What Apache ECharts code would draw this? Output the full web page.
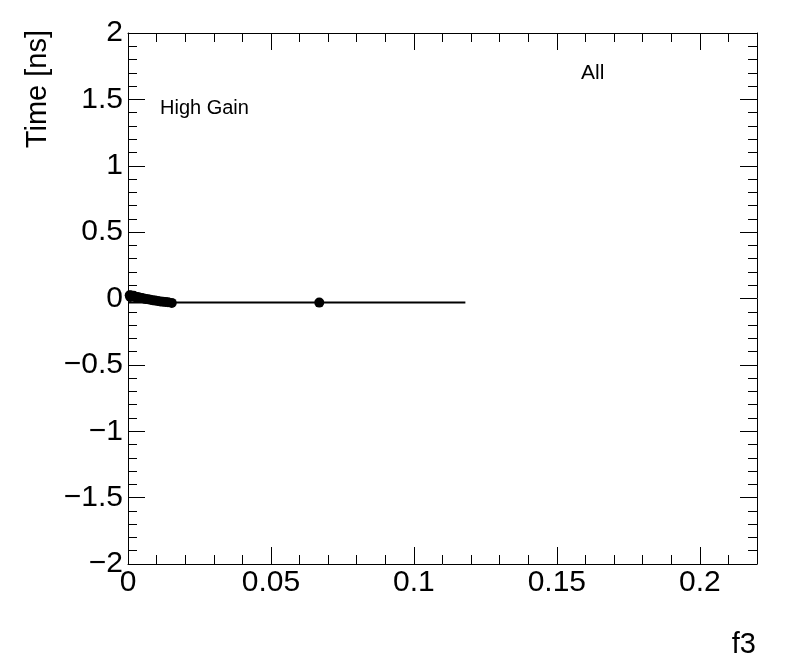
<!DOCTYPE html>
<html>
<head>
<meta charset="utf-8">
<script src="https://cdn.jsdelivr.net/npm/echarts@6/dist/echarts.min.js"></script>
<style>
html,body{margin:0;padding:0;background:#fff;}
#chart{width:796px;height:672px;}
</style>
</head>
<body>
<div id="chart"></div>
<script>
// Data
var pointX = [0.0006,0.0008,0.0010,0.0015,0.0020,0.0025,0.0030,0.0036,0.0042,0.0048,0.0055,0.0062,0.0070,0.0078,0.0086,0.0095,0.0104,0.0113,0.0122,0.0131,0.0140,0.0153,0.0669];
var pointY = [0.025,0.012,0.022,0.018,0.020,0.009,0.012,0.010,0.006,0.004,0.000,-0.003,-0.006,-0.010,-0.013,-0.016,-0.019,-0.022,-0.024,-0.026,-0.028,-0.033,-0.031];
var fitX = [0.0, 0.118];
var fitY = [-0.030, -0.030];
var xTicks = [0, 0.05, 0.1, 0.15, 0.2];
var yTicks = [-2, -1.5, -1, -0.5, 0, 0.5, 1, 1.5, 2];

var chart = echarts.init(document.getElementById('chart'));
var font = 'Liberation Sans, Arial, Helvetica, sans-serif';

function fmtNum(v){
  var r = Math.round(v*1000)/1000;
  var s = String(Math.abs(r));
  return (r < 0 ? '\u2212' : '') + s;
}

var axisLineStyle = {color:'#000', width:1};
var baseX = {
  type:'value', min:0, max:0.22, interval:0.05,
  axisLine:{show:true, onZero:false, lineStyle:axisLineStyle},
  axisTick:{show:true, inside:true, length:17, lineStyle:axisLineStyle},
  minorTick:{show:true, splitNumber:5, length:9, lineStyle:axisLineStyle},
  splitLine:{show:false}
};
var baseY = {
  type:'value', min:-2, max:2, interval:0.5,
  axisLine:{show:true, onZero:false, lineStyle:axisLineStyle},
  axisTick:{show:true, inside:true, length:17, lineStyle:axisLineStyle},
  minorTick:{show:true, splitNumber:5, length:9, lineStyle:axisLineStyle},
  splitLine:{show:false}
};

var option = {
  backgroundColor:'#fff',
  animation:false,
  grid:{left:128, top:33, right:39, bottom:108, containLabel:false},
  xAxis:[
    Object.assign({}, baseX, {position:'bottom',
      axisLabel:{show:true, margin:4, fontSize:30, color:'#000', fontFamily:font,
        showMaxLabel:false,
        formatter:function(v){ return xTicks.some(function(t){return Math.abs(t-v)<1e-9;}) ? fmtNum(v) : ''; }}}),
    Object.assign({}, baseX, {position:'top', axisLabel:{show:false}})
  ],
  yAxis:[
    Object.assign({}, baseY, {position:'left',
      axisLabel:{show:true, margin:5, fontSize:30, color:'#000', fontFamily:font,
        formatter:function(v){ return yTicks.some(function(t){return Math.abs(t-v)<1e-9;}) ? fmtNum(v) : ''; }}}),
    Object.assign({}, baseY, {position:'right', axisLabel:{show:false}})
  ],
  series:[
    {
      type:'line', xAxisIndex:0, yAxisIndex:0,
      data: fitX.map(function(x,i){ return [x, fitY[i]]; }),
      showSymbol:false, symbol:'none',
      lineStyle:{color:'#000', width:2},
      z:2
    },
    {
      type:'scatter', xAxisIndex:0, yAxisIndex:0,
      data: pointX.map(function(x,i){ return [x, pointY[i]]; }),
      symbol:'circle', symbolSize:10,
      itemStyle:{color:'#000', opacity:1},
      z:3
    }
  ],
  graphic:[
    {type:'text', x:38, y:30, rotation:Math.PI/2,
      style:{text:'Time [ns]', font:'29px ' + font, fill:'#000', textAlign:'right', textVerticalAlign:'middle'}},
    {type:'text', x:756, y:645,
      style:{text:'f3', font:'29px ' + font, fill:'#000', textAlign:'right', textVerticalAlign:'middle'}},
    {type:'text', x:160, y:108,
      style:{text:'High Gain', font:'20px ' + font, fill:'#000', textAlign:'left', textVerticalAlign:'middle'}},
    {type:'text', x:581, y:73,
      style:{text:'All', font:'21px ' + font, fill:'#000', textAlign:'left', textVerticalAlign:'middle'}}
  ]
};
chart.setOption(option);
</script>
</body>
</html>
